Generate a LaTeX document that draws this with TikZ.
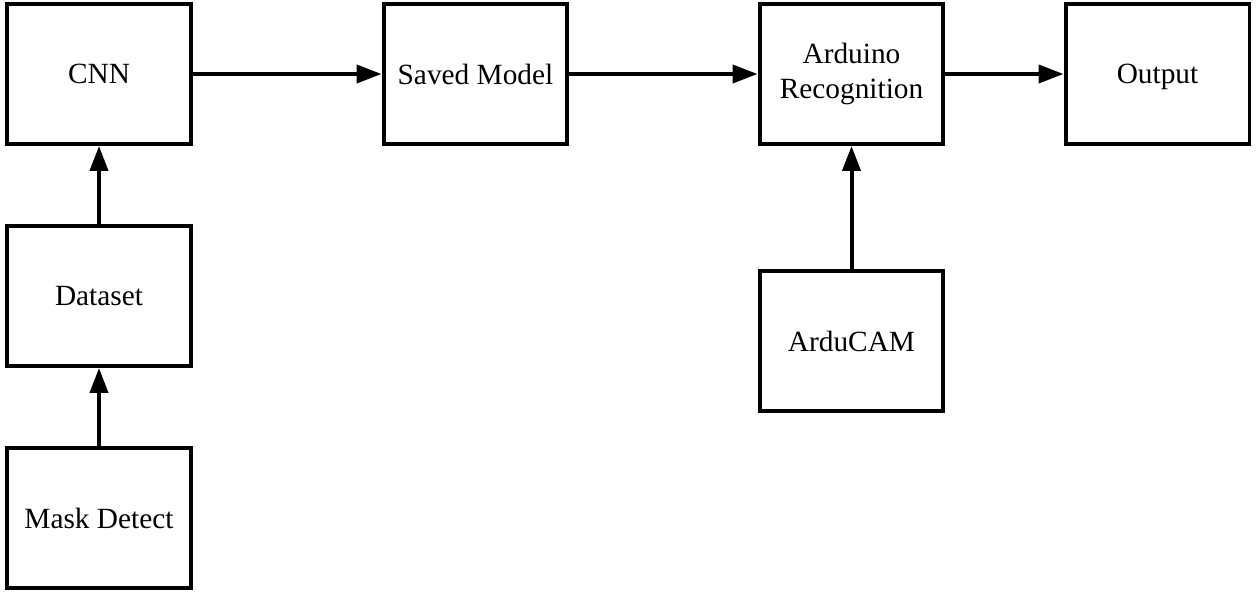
\documentclass[tikz,border=0pt]{standalone}
\usepackage{fontspec}
\setmainfont{Liberation Serif}
\usetikzlibrary{arrows.meta}
\usetikzlibrary{positioning}

\begin{document}
\begin{tikzpicture}[x=0.02cm,y=-0.02cm,
  every node/.style={draw,line width=0.08cm,minimum width=3.68cm,minimum height=2.8cm,
    align=center,font=\fontsize{16.7}{20}\selectfont},
  flow/.style={line width=0.08cm,-{Triangle[length=0.5cm,width=0.36cm]}}]
  \useasboundingbox (0,0) rectangle (1257,592);
  \node (cnn) at (99,74) {CNN};
  \node (data) at (99,296) {Dataset};
  \node (mask) at (99,518) {Mask Detect};
  \node (saved) at (475.5,74) {Saved Model};
  \node (ard) at (851.5,74) {Arduino\\Recognition};
  \node (out) at (1157.5,74) {Out\smash{p}ut};
  \node (cam) at (851.5,341) {ArduCAM};
  \draw[flow](mask)--(data);
  \draw[flow](data)--(cnn);
  \draw[flow](cnn)--(saved);
  \draw[flow](saved)--(ard);
  \draw[flow](ard)--(out);
  \draw[flow](cam)--(ard);
\end{tikzpicture}
\end{document}
